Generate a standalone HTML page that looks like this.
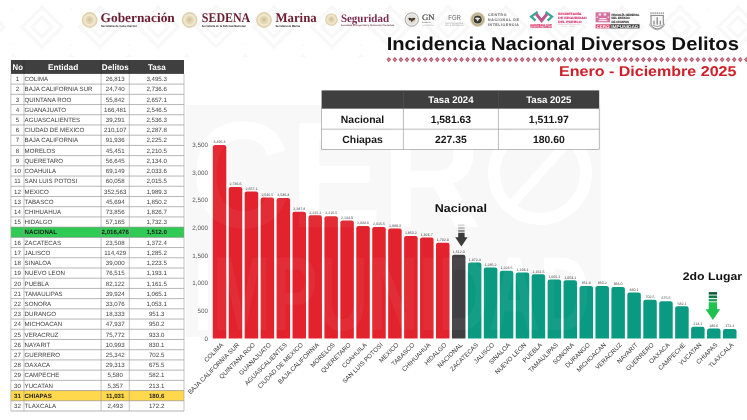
<!DOCTYPE html>
<html lang="es">
<head>
<meta charset="utf-8">
<title>Incidencia Nacional Diversos Delitos</title>
<style>
html,body{margin:0;padding:0;background:#fff;}
body{width:747px;height:420px;overflow:hidden;position:relative;font-family:"Liberation Sans", sans-serif;}
svg text{white-space:pre;}
</style>
</head>
<body>
<svg width="747" height="420" viewBox="0 0 747 420" style="display:block;position:absolute;left:0;top:0" text-rendering="geometricPrecision">
<rect width="747" height="420" fill="#ffffff"/>
<defs><pattern id="hp" x="13" y="-1" width="58" height="58" patternUnits="userSpaceOnUse"><g fill="none" stroke="#f8f8f8" stroke-width="3.4"><path d="M29 8 L49 28 L29 48 L9 28 Z"/><path d="M29 18 L39 28 L29 38 L19 28 Z"/><path d="M0 -1 L29 -30 M0 57 L-29 28 L0 -1 M58 -1 L87 28 L58 57 M0 9 L-19 28 L0 47 M58 9 L77 28 L58 47"/><path d="M29 58 L58 87 M29 -2 L58 -31 M0 57 L29 86 M58 57 L29 86 M0 -1 L29 -30 M58 -1 L29 -30"/></g></pattern></defs>
<rect x="0" y="0" width="747" height="57" fill="url(#hp)"/>
<rect x="186" y="105" width="415" height="232" fill="#f8f8f8"/>
<g fill="#ffffff" opacity="1.0" font-weight="bold" font-family='"Liberation Sans", sans-serif'>
<text x="191" y="227" font-size="151" textLength="290" lengthAdjust="spacingAndGlyphs">CER</text>
<text x="193" y="330" font-size="105" textLength="397" lengthAdjust="spacingAndGlyphs">IMPUNIDAD</text>
<circle cx="540" cy="173" r="46" fill="none" stroke="#ffffff" stroke-width="12"/>
<line x1="513" y1="203" x2="567" y2="143" stroke="#ffffff" stroke-width="9"/>
</g>
<circle cx="89.6" cy="20" r="7.9" fill="#e0d2ad"/>
<circle cx="89.6" cy="20" r="6.32" fill="#efe6cf"/>
<circle cx="89.6" cy="20" r="3.95" fill="#e3d6b4"/>
<circle cx="89.6" cy="19.7" r="2.05" fill="#d6c69c"/>
<text x="100.60" y="22.30" font-size="13.2" fill="#691c32" font-weight="bold" text-anchor="start" font-family='"Liberation Serif", serif' textLength="74.2" lengthAdjust="spacingAndGlyphs">Gobernación</text>
<text x="100.90" y="27.10" font-size="2.9" fill="#222" font-weight="bold" text-anchor="start" font-family='"Liberation Sans", sans-serif' textLength="36" lengthAdjust="spacingAndGlyphs">Secretaría de Gobernación</text>
<circle cx="189.6" cy="20" r="7.9" fill="#e0d2ad"/>
<circle cx="189.6" cy="20" r="6.32" fill="#efe6cf"/>
<circle cx="189.6" cy="20" r="3.95" fill="#e3d6b4"/>
<circle cx="189.6" cy="19.7" r="2.05" fill="#d6c69c"/>
<text x="201.80" y="22.30" font-size="13.2" fill="#691c32" font-weight="bold" text-anchor="start" font-family='"Liberation Serif", serif' textLength="48.4" lengthAdjust="spacingAndGlyphs">SEDENA</text>
<text x="201.80" y="27.10" font-size="2.9" fill="#222" font-weight="bold" text-anchor="start" font-family='"Liberation Sans", sans-serif' textLength="43.8" lengthAdjust="spacingAndGlyphs">Secretaría de la Defensa Nacional</text>
<circle cx="264" cy="20" r="7.9" fill="#e0d2ad"/>
<circle cx="264" cy="20" r="6.32" fill="#efe6cf"/>
<circle cx="264" cy="20" r="3.95" fill="#e3d6b4"/>
<circle cx="264" cy="19.7" r="2.05" fill="#d6c69c"/>
<text x="275.40" y="22.30" font-size="13.2" fill="#691c32" font-weight="bold" text-anchor="start" font-family='"Liberation Serif", serif' textLength="41.3" lengthAdjust="spacingAndGlyphs">Marina</text>
<text x="275.40" y="27.10" font-size="2.9" fill="#222" font-weight="bold" text-anchor="start" font-family='"Liberation Sans", sans-serif' textLength="24.6" lengthAdjust="spacingAndGlyphs">Secretaría de Marina</text>
<circle cx="331.4" cy="19.5" r="6.3" fill="#e0d2ad"/>
<circle cx="331.4" cy="19.5" r="5.04" fill="#efe6cf"/>
<circle cx="331.4" cy="19.5" r="3.15" fill="#e3d6b4"/>
<circle cx="331.4" cy="19.2" r="1.64" fill="#d6c69c"/>
<text x="340.90" y="21.60" font-size="11.3" fill="#7c2b50" font-weight="bold" text-anchor="start" font-family='"Liberation Serif", serif' textLength="48.1" lengthAdjust="spacingAndGlyphs">Seguridad</text>
<text x="340.90" y="25.60" font-size="2.3" fill="#6a3a50" font-weight="bold" text-anchor="start" font-family='"Liberation Sans", sans-serif' textLength="53.5" lengthAdjust="spacingAndGlyphs">Secretaría de Seguridad y Protección Ciudadana</text>
<circle cx="411.8" cy="19.5" r="6.7" fill="#f0efec" stroke="#9c9c9c" stroke-width="0.9"/>
<circle cx="411.8" cy="19.5" r="5.0" fill="#e3e0da"/>
<path d="M408.2 18.2 Q410 17.2 411.8 18.6 Q413.6 17.2 415.4 18.2 L414.2 20.6 L412.8 20.4 L411.8 22.6 L410.8 20.4 L409.4 20.6 Z" fill="#4a3828"/>
<text x="421.90" y="19.80" font-size="8.2" fill="#4d4d4d" font-weight="normal" text-anchor="start" font-family='"Liberation Serif", serif' textLength="12.6" lengthAdjust="spacingAndGlyphs" stroke="#4d4d4d" stroke-width="0.2">GN</text>
<text x="422.00" y="22.80" font-size="2.0" fill="#777" font-weight="bold" text-anchor="start" font-family='"Liberation Sans", sans-serif' textLength="8.5" lengthAdjust="spacingAndGlyphs">GUARDIA</text>
<text x="422.00" y="25.50" font-size="2.0" fill="#999" font-weight="normal" text-anchor="start" font-family='"Liberation Sans", sans-serif' textLength="12" lengthAdjust="spacingAndGlyphs">NACIONAL</text>
<text x="448.20" y="20.20" font-size="7.0" fill="#666" font-weight="normal" text-anchor="start" font-family='"Liberation Sans", sans-serif' textLength="12.8" lengthAdjust="spacingAndGlyphs">FGR</text>
<text x="445.00" y="23.90" font-size="2.1" fill="#b0b0b0" font-weight="bold" text-anchor="start" font-family='"Liberation Sans", sans-serif' textLength="18.7" lengthAdjust="spacingAndGlyphs">FISCALÍA GENERAL</text>
<text x="445.00" y="26.30" font-size="2.1" fill="#b0b0b0" font-weight="bold" text-anchor="start" font-family='"Liberation Sans", sans-serif' textLength="18.7" lengthAdjust="spacingAndGlyphs">DE LA REPÚBLICA</text>
<circle cx="477.7" cy="19.5" r="7.4" fill="#d8cfb2"/>
<circle cx="477.7" cy="19.5" r="6.3" fill="#b3a67f"/>
<circle cx="477.7" cy="19.5" r="5.0" fill="#e2dac0"/>
<circle cx="477.7" cy="19.5" r="4.1" fill="#3c3a30"/>
<path d="M474.6 18.2 Q477.4 16.8 480.6 18.6 Q478.6 18.8 477.8 21.6 Q476.8 19 474.6 18.2 Z" fill="#e9e6dc"/>
<text x="488.00" y="16.20" font-size="3.5" fill="#7e7e7e" font-weight="bold" text-anchor="start" font-family='"Liberation Sans", sans-serif' textLength="18.6" lengthAdjust="spacing" stroke="#7e7e7e" stroke-width="0.12">CENTRO</text>
<text x="488.00" y="21.05" font-size="3.5" fill="#7e7e7e" font-weight="bold" text-anchor="start" font-family='"Liberation Sans", sans-serif' textLength="30.9" lengthAdjust="spacing" stroke="#7e7e7e" stroke-width="0.12">NACIONAL DE</text>
<text x="488.00" y="25.90" font-size="3.5" fill="#7e7e7e" font-weight="bold" text-anchor="start" font-family='"Liberation Sans", sans-serif' textLength="30.9" lengthAdjust="spacing" stroke="#7e7e7e" stroke-width="0.12">INTELIGENCIA</text>
<g fill="none" stroke-width="2.3" stroke-linejoin="miter" stroke-linecap="butt">
<polyline points="537.6,12.0 531.2,16.6 535.6,20.6" stroke="#3aa899"/>
<polyline points="545.6,12.0 552.0,16.6 547.6,20.6" stroke="#3aa899"/>
<polyline points="536.2,14.0 541.6,20.6 547.0,14.0" stroke="#b9588a" stroke-width="3.0"/>
</g>
<text x="529.90" y="25.70" font-size="2.4" fill="#d93a6a" font-weight="bold" text-anchor="start" font-family='"Liberation Sans", sans-serif' textLength="22" lengthAdjust="spacingAndGlyphs" stroke="#d93a6a" stroke-width="0.15">GOBIERNO QUE</text>
<text x="529.90" y="27.90" font-size="2.6" fill="#d93a6a" font-weight="bold" text-anchor="start" font-family='"Liberation Sans", sans-serif' textLength="22" lengthAdjust="spacingAndGlyphs" stroke="#d93a6a" stroke-width="0.15">TRANSFORMA</text>
<text x="558.00" y="15.20" font-size="3.3" fill="#d93a72" font-weight="bold" text-anchor="start" font-family='"Liberation Sans", sans-serif' textLength="23.5" lengthAdjust="spacingAndGlyphs" stroke="#d93a72" stroke-width="0.15">SECRETARÍA</text>
<text x="558.00" y="18.95" font-size="3.3" fill="#d93a72" font-weight="bold" text-anchor="start" font-family='"Liberation Sans", sans-serif' textLength="28.6" lengthAdjust="spacingAndGlyphs" stroke="#d93a72" stroke-width="0.15">DE SEGURIDAD</text>
<text x="558.00" y="22.70" font-size="3.3" fill="#d93a72" font-weight="bold" text-anchor="start" font-family='"Liberation Sans", sans-serif' textLength="23.5" lengthAdjust="spacingAndGlyphs" stroke="#d93a72" stroke-width="0.15">DEL PUEBLO</text>
<text x="558.00" y="25.10" font-size="1.9" fill="#e3b7c6" font-weight="bold" text-anchor="start" font-family='"Liberation Sans", sans-serif' textLength="22" lengthAdjust="spacingAndGlyphs">GOBIERNO DE CHIAPAS</text>
<text x="561.00" y="27.00" font-size="1.7" fill="#d8d0d3" font-weight="bold" text-anchor="start" font-family='"Liberation Sans", sans-serif' textLength="14" lengthAdjust="spacingAndGlyphs">2024 - 2030</text>
<rect x="595.6" y="12.3" width="14.5" height="10" fill="#d271a2"/>
<g fill="#fff" opacity="0.8">
<rect x="598.6" y="13.4" width="2.6" height="2.2"/>
<rect x="603.6" y="13.4" width="2.6" height="2.2"/>
<rect x="596.6" y="16.6" width="1.6" height="1.2"/>
<rect x="607.6" y="16.6" width="1.6" height="1.2"/>
<rect x="599.4" y="18.0" width="7.0" height="1.4"/>
<rect x="598.4" y="20.0" width="9.0" height="1.2"/>
</g>
<text x="611.40" y="15.70" font-size="3.0" fill="#3a3a3a" font-weight="bold" text-anchor="start" font-family='"Liberation Sans", sans-serif' textLength="28.1" lengthAdjust="spacingAndGlyphs" stroke="#3a3a3a" stroke-width="0.15">FISCALÍA GENERAL</text>
<text x="611.40" y="19.15" font-size="3.0" fill="#3a3a3a" font-weight="bold" text-anchor="start" font-family='"Liberation Sans", sans-serif' textLength="18.4" lengthAdjust="spacingAndGlyphs" stroke="#3a3a3a" stroke-width="0.15">DEL ESTADO</text>
<text x="611.40" y="22.60" font-size="3.0" fill="#3a3a3a" font-weight="bold" text-anchor="start" font-family='"Liberation Sans", sans-serif' textLength="17.6" lengthAdjust="spacingAndGlyphs" stroke="#3a3a3a" stroke-width="0.15">DE CHIAPAS</text>
<rect x="595.6" y="24.3" width="14.7" height="4.1" fill="#d9446a"/>
<rect x="610.3" y="24.3" width="29.2" height="4.1" fill="#383838"/>
<text x="596.40" y="27.70" font-size="3.9" fill="#fff" font-weight="bold" text-anchor="start" font-family='"Liberation Sans", sans-serif' textLength="13.0" lengthAdjust="spacingAndGlyphs">CERO</text>
<text x="611.20" y="27.70" font-size="3.9" fill="#fff" font-weight="bold" text-anchor="start" font-family='"Liberation Sans", sans-serif' textLength="27.4" lengthAdjust="spacingAndGlyphs">IMPUNIDAD</text>
<g fill="none" stroke="#777" stroke-width="0.7">
<path d="M650.2 13.3 H664" stroke-width="1.9" stroke="#a9a9a9" stroke-dasharray="1.5 0.6"/>
<path d="M650.4 15.7 H663.9" stroke-width="0.9" stroke="#666"/>
<path d="M651.0 15.9 V24.2 Q651.0 27.6 657.15 29.1 Q663.3 27.6 663.3 24.2 V15.9" fill="#f6f6f6" stroke="#5e5e5e" stroke-width="0.8"/>
<path d="M649.4 23.6 Q650.2 28.4 657.15 30.0 Q664.1 28.4 664.9 23.6" stroke="#9b9b9b" stroke-width="0.7"/>
<path d="M657.15 17.2 V24.6" stroke-width="0.9" stroke="#555"/>
<path d="M654.0 20.8 V24.6 M660.3 20.8 V24.6" stroke-width="1.1" stroke="#7a7a7a"/>
<path d="M652.6 25.4 Q657.15 27.6 661.7 25.4" stroke-width="0.8" stroke="#8a8a8a"/>
</g>
<text x="386.70" y="50.40" font-size="18.5" fill="#111" font-weight="bold" text-anchor="start" font-family='"Liberation Sans", sans-serif' textLength="352.2" lengthAdjust="spacingAndGlyphs">Incidencia Nacional Diversos Delitos</text>
<g>
<path d="M386.50 59.6 L388.80 57.05 L391.10 59.6 L388.80 62.15 Z" fill="#b45467"/><circle cx="388.80" cy="59.6" r="0.95" fill="#d78e9c"/>
<path d="M392.56 59.6 L394.86 57.05 L397.16 59.6 L394.86 62.15 Z" fill="#b45467"/><circle cx="394.86" cy="59.6" r="0.95" fill="#d78e9c"/>
<path d="M398.62 59.6 L400.92 57.05 L403.22 59.6 L400.92 62.15 Z" fill="#b45467"/><circle cx="400.92" cy="59.6" r="0.95" fill="#d78e9c"/>
<path d="M404.68 59.6 L406.98 57.05 L409.28 59.6 L406.98 62.15 Z" fill="#b45467"/><circle cx="406.98" cy="59.6" r="0.95" fill="#d78e9c"/>
<path d="M410.74 59.6 L413.04 57.05 L415.34 59.6 L413.04 62.15 Z" fill="#b45467"/><circle cx="413.04" cy="59.6" r="0.95" fill="#d78e9c"/>
<path d="M416.80 59.6 L419.10 57.05 L421.40 59.6 L419.10 62.15 Z" fill="#b45467"/><circle cx="419.10" cy="59.6" r="0.95" fill="#d78e9c"/>
<path d="M422.86 59.6 L425.16 57.05 L427.46 59.6 L425.16 62.15 Z" fill="#b45467"/><circle cx="425.16" cy="59.6" r="0.95" fill="#d78e9c"/>
<path d="M428.92 59.6 L431.22 57.05 L433.52 59.6 L431.22 62.15 Z" fill="#b45467"/><circle cx="431.22" cy="59.6" r="0.95" fill="#d78e9c"/>
<path d="M434.98 59.6 L437.28 57.05 L439.58 59.6 L437.28 62.15 Z" fill="#b45467"/><circle cx="437.28" cy="59.6" r="0.95" fill="#d78e9c"/>
<path d="M441.04 59.6 L443.34 57.05 L445.64 59.6 L443.34 62.15 Z" fill="#b45467"/><circle cx="443.34" cy="59.6" r="0.95" fill="#d78e9c"/>
<path d="M447.10 59.6 L449.40 57.05 L451.70 59.6 L449.40 62.15 Z" fill="#b45467"/><circle cx="449.40" cy="59.6" r="0.95" fill="#d78e9c"/>
<path d="M453.16 59.6 L455.46 57.05 L457.76 59.6 L455.46 62.15 Z" fill="#b45467"/><circle cx="455.46" cy="59.6" r="0.95" fill="#d78e9c"/>
<path d="M459.22 59.6 L461.52 57.05 L463.82 59.6 L461.52 62.15 Z" fill="#b45467"/><circle cx="461.52" cy="59.6" r="0.95" fill="#d78e9c"/>
<path d="M465.28 59.6 L467.58 57.05 L469.88 59.6 L467.58 62.15 Z" fill="#b45467"/><circle cx="467.58" cy="59.6" r="0.95" fill="#d78e9c"/>
<path d="M471.34 59.6 L473.64 57.05 L475.94 59.6 L473.64 62.15 Z" fill="#b45467"/><circle cx="473.64" cy="59.6" r="0.95" fill="#d78e9c"/>
<path d="M477.40 59.6 L479.70 57.05 L482.00 59.6 L479.70 62.15 Z" fill="#b45467"/><circle cx="479.70" cy="59.6" r="0.95" fill="#d78e9c"/>
<path d="M483.46 59.6 L485.76 57.05 L488.06 59.6 L485.76 62.15 Z" fill="#b45467"/><circle cx="485.76" cy="59.6" r="0.95" fill="#d78e9c"/>
<path d="M489.52 59.6 L491.82 57.05 L494.12 59.6 L491.82 62.15 Z" fill="#b45467"/><circle cx="491.82" cy="59.6" r="0.95" fill="#d78e9c"/>
<path d="M495.58 59.6 L497.88 57.05 L500.18 59.6 L497.88 62.15 Z" fill="#b45467"/><circle cx="497.88" cy="59.6" r="0.95" fill="#d78e9c"/>
<path d="M501.64 59.6 L503.94 57.05 L506.24 59.6 L503.94 62.15 Z" fill="#b45467"/><circle cx="503.94" cy="59.6" r="0.95" fill="#d78e9c"/>
<path d="M507.70 59.6 L510.00 57.05 L512.30 59.6 L510.00 62.15 Z" fill="#b45467"/><circle cx="510.00" cy="59.6" r="0.95" fill="#d78e9c"/>
<path d="M513.76 59.6 L516.06 57.05 L518.36 59.6 L516.06 62.15 Z" fill="#b45467"/><circle cx="516.06" cy="59.6" r="0.95" fill="#d78e9c"/>
<path d="M519.82 59.6 L522.12 57.05 L524.42 59.6 L522.12 62.15 Z" fill="#b45467"/><circle cx="522.12" cy="59.6" r="0.95" fill="#d78e9c"/>
<path d="M525.88 59.6 L528.18 57.05 L530.48 59.6 L528.18 62.15 Z" fill="#b45467"/><circle cx="528.18" cy="59.6" r="0.95" fill="#d78e9c"/>
<path d="M531.94 59.6 L534.24 57.05 L536.54 59.6 L534.24 62.15 Z" fill="#b45467"/><circle cx="534.24" cy="59.6" r="0.95" fill="#d78e9c"/>
<path d="M538.00 59.6 L540.30 57.05 L542.60 59.6 L540.30 62.15 Z" fill="#b45467"/><circle cx="540.30" cy="59.6" r="0.95" fill="#d78e9c"/>
<path d="M544.06 59.6 L546.36 57.05 L548.66 59.6 L546.36 62.15 Z" fill="#b45467"/><circle cx="546.36" cy="59.6" r="0.95" fill="#d78e9c"/>
<path d="M550.12 59.6 L552.42 57.05 L554.72 59.6 L552.42 62.15 Z" fill="#b45467"/><circle cx="552.42" cy="59.6" r="0.95" fill="#d78e9c"/>
<path d="M556.18 59.6 L558.48 57.05 L560.78 59.6 L558.48 62.15 Z" fill="#b45467"/><circle cx="558.48" cy="59.6" r="0.95" fill="#d78e9c"/>
<path d="M562.24 59.6 L564.54 57.05 L566.84 59.6 L564.54 62.15 Z" fill="#b45467"/><circle cx="564.54" cy="59.6" r="0.95" fill="#d78e9c"/>
<path d="M568.30 59.6 L570.60 57.05 L572.90 59.6 L570.60 62.15 Z" fill="#b45467"/><circle cx="570.60" cy="59.6" r="0.95" fill="#d78e9c"/>
<path d="M574.36 59.6 L576.66 57.05 L578.96 59.6 L576.66 62.15 Z" fill="#b45467"/><circle cx="576.66" cy="59.6" r="0.95" fill="#d78e9c"/>
<path d="M580.42 59.6 L582.72 57.05 L585.02 59.6 L582.72 62.15 Z" fill="#b45467"/><circle cx="582.72" cy="59.6" r="0.95" fill="#d78e9c"/>
<path d="M586.48 59.6 L588.78 57.05 L591.08 59.6 L588.78 62.15 Z" fill="#b45467"/><circle cx="588.78" cy="59.6" r="0.95" fill="#d78e9c"/>
<path d="M592.54 59.6 L594.84 57.05 L597.14 59.6 L594.84 62.15 Z" fill="#b45467"/><circle cx="594.84" cy="59.6" r="0.95" fill="#d78e9c"/>
<path d="M598.60 59.6 L600.90 57.05 L603.20 59.6 L600.90 62.15 Z" fill="#b45467"/><circle cx="600.90" cy="59.6" r="0.95" fill="#d78e9c"/>
<path d="M604.66 59.6 L606.96 57.05 L609.26 59.6 L606.96 62.15 Z" fill="#b45467"/><circle cx="606.96" cy="59.6" r="0.95" fill="#d78e9c"/>
<path d="M610.72 59.6 L613.02 57.05 L615.32 59.6 L613.02 62.15 Z" fill="#b45467"/><circle cx="613.02" cy="59.6" r="0.95" fill="#d78e9c"/>
<path d="M616.78 59.6 L619.08 57.05 L621.38 59.6 L619.08 62.15 Z" fill="#b45467"/><circle cx="619.08" cy="59.6" r="0.95" fill="#d78e9c"/>
<path d="M622.84 59.6 L625.14 57.05 L627.44 59.6 L625.14 62.15 Z" fill="#b45467"/><circle cx="625.14" cy="59.6" r="0.95" fill="#d78e9c"/>
<path d="M628.90 59.6 L631.20 57.05 L633.50 59.6 L631.20 62.15 Z" fill="#b45467"/><circle cx="631.20" cy="59.6" r="0.95" fill="#d78e9c"/>
<path d="M634.96 59.6 L637.26 57.05 L639.56 59.6 L637.26 62.15 Z" fill="#b45467"/><circle cx="637.26" cy="59.6" r="0.95" fill="#d78e9c"/>
<path d="M641.02 59.6 L643.32 57.05 L645.62 59.6 L643.32 62.15 Z" fill="#b45467"/><circle cx="643.32" cy="59.6" r="0.95" fill="#d78e9c"/>
<path d="M647.08 59.6 L649.38 57.05 L651.68 59.6 L649.38 62.15 Z" fill="#b45467"/><circle cx="649.38" cy="59.6" r="0.95" fill="#d78e9c"/>
<path d="M653.14 59.6 L655.44 57.05 L657.74 59.6 L655.44 62.15 Z" fill="#b45467"/><circle cx="655.44" cy="59.6" r="0.95" fill="#d78e9c"/>
<path d="M659.20 59.6 L661.50 57.05 L663.80 59.6 L661.50 62.15 Z" fill="#b45467"/><circle cx="661.50" cy="59.6" r="0.95" fill="#d78e9c"/>
<path d="M665.26 59.6 L667.56 57.05 L669.86 59.6 L667.56 62.15 Z" fill="#b45467"/><circle cx="667.56" cy="59.6" r="0.95" fill="#d78e9c"/>
<path d="M671.32 59.6 L673.62 57.05 L675.92 59.6 L673.62 62.15 Z" fill="#b45467"/><circle cx="673.62" cy="59.6" r="0.95" fill="#d78e9c"/>
<path d="M677.38 59.6 L679.68 57.05 L681.98 59.6 L679.68 62.15 Z" fill="#b45467"/><circle cx="679.68" cy="59.6" r="0.95" fill="#d78e9c"/>
<path d="M683.44 59.6 L685.74 57.05 L688.04 59.6 L685.74 62.15 Z" fill="#b45467"/><circle cx="685.74" cy="59.6" r="0.95" fill="#d78e9c"/>
<path d="M689.50 59.6 L691.80 57.05 L694.10 59.6 L691.80 62.15 Z" fill="#b45467"/><circle cx="691.80" cy="59.6" r="0.95" fill="#d78e9c"/>
<path d="M695.56 59.6 L697.86 57.05 L700.16 59.6 L697.86 62.15 Z" fill="#b45467"/><circle cx="697.86" cy="59.6" r="0.95" fill="#d78e9c"/>
<path d="M701.62 59.6 L703.92 57.05 L706.22 59.6 L703.92 62.15 Z" fill="#b45467"/><circle cx="703.92" cy="59.6" r="0.95" fill="#d78e9c"/>
<path d="M707.68 59.6 L709.98 57.05 L712.28 59.6 L709.98 62.15 Z" fill="#b45467"/><circle cx="709.98" cy="59.6" r="0.95" fill="#d78e9c"/>
<path d="M713.74 59.6 L716.04 57.05 L718.34 59.6 L716.04 62.15 Z" fill="#b45467"/><circle cx="716.04" cy="59.6" r="0.95" fill="#d78e9c"/>
<path d="M719.80 59.6 L722.10 57.05 L724.40 59.6 L722.10 62.15 Z" fill="#b45467"/><circle cx="722.10" cy="59.6" r="0.95" fill="#d78e9c"/>
<path d="M725.86 59.6 L728.16 57.05 L730.46 59.6 L728.16 62.15 Z" fill="#b45467"/><circle cx="728.16" cy="59.6" r="0.95" fill="#d78e9c"/>
<path d="M731.92 59.6 L734.22 57.05 L736.52 59.6 L734.22 62.15 Z" fill="#b45467"/><circle cx="734.22" cy="59.6" r="0.95" fill="#d78e9c"/>
<path d="M737.98 59.6 L740.28 57.05 L742.58 59.6 L740.28 62.15 Z" fill="#b45467"/><circle cx="740.28" cy="59.6" r="0.95" fill="#d78e9c"/>
<path d="M744.04 59.6 L746.34 57.05 L748.64 59.6 L746.34 62.15 Z" fill="#b45467"/><circle cx="746.34" cy="59.6" r="0.95" fill="#d78e9c"/>
</g>
<text x="559.00" y="76.30" font-size="14.2" fill="#d11f2a" font-weight="bold" text-anchor="start" font-family='"Liberation Sans", sans-serif' textLength="177.4" lengthAdjust="spacingAndGlyphs">Enero - Diciembre 2025</text>
<rect x="10.9" y="73.9" width="173.1" height="337.10" fill="#fff"/>
<rect x="10.9" y="60.0" width="173.1" height="13.90" fill="#3f3f3f"/>
<rect x="10.9" y="227.13" width="173.1" height="10.22" fill="#30cb55"/>
<rect x="10.9" y="390.57" width="173.1" height="10.22" fill="#ffd84d"/>
<text x="12.60" y="69.70" font-size="8.2" fill="#fff" font-weight="bold" text-anchor="start" font-family='"Liberation Sans", sans-serif' textLength="10.3" lengthAdjust="spacingAndGlyphs">No</text>
<text x="47.90" y="69.70" font-size="8.2" fill="#fff" font-weight="bold" text-anchor="start" font-family='"Liberation Sans", sans-serif' textLength="30.4" lengthAdjust="spacingAndGlyphs">Entidad</text>
<text x="101.80" y="69.70" font-size="8.2" fill="#fff" font-weight="bold" text-anchor="start" font-family='"Liberation Sans", sans-serif' textLength="27.0" lengthAdjust="spacingAndGlyphs">Delitos</text>
<text x="147.90" y="69.70" font-size="8.2" fill="#fff" font-weight="bold" text-anchor="start" font-family='"Liberation Sans", sans-serif' textLength="17.8" lengthAdjust="spacingAndGlyphs">Tasa</text>
<g stroke="#848484" stroke-width="0.6" fill="none">
<line x1="10.9" y1="84.12" x2="184.0" y2="84.12"/>
<line x1="10.9" y1="94.33" x2="184.0" y2="94.33"/>
<line x1="10.9" y1="104.55" x2="184.0" y2="104.55"/>
<line x1="10.9" y1="114.76" x2="184.0" y2="114.76"/>
<line x1="10.9" y1="124.98" x2="184.0" y2="124.98"/>
<line x1="10.9" y1="135.19" x2="184.0" y2="135.19"/>
<line x1="10.9" y1="145.41" x2="184.0" y2="145.41"/>
<line x1="10.9" y1="155.62" x2="184.0" y2="155.62"/>
<line x1="10.9" y1="165.84" x2="184.0" y2="165.84"/>
<line x1="10.9" y1="176.05" x2="184.0" y2="176.05"/>
<line x1="10.9" y1="186.27" x2="184.0" y2="186.27"/>
<line x1="10.9" y1="196.48" x2="184.0" y2="196.48"/>
<line x1="10.9" y1="206.70" x2="184.0" y2="206.70"/>
<line x1="10.9" y1="216.91" x2="184.0" y2="216.91"/>
<line x1="10.9" y1="227.13" x2="184.0" y2="227.13"/>
<line x1="10.9" y1="237.34" x2="184.0" y2="237.34"/>
<line x1="10.9" y1="247.56" x2="184.0" y2="247.56"/>
<line x1="10.9" y1="257.77" x2="184.0" y2="257.77"/>
<line x1="10.9" y1="267.99" x2="184.0" y2="267.99"/>
<line x1="10.9" y1="278.20" x2="184.0" y2="278.20"/>
<line x1="10.9" y1="288.42" x2="184.0" y2="288.42"/>
<line x1="10.9" y1="298.63" x2="184.0" y2="298.63"/>
<line x1="10.9" y1="308.85" x2="184.0" y2="308.85"/>
<line x1="10.9" y1="319.06" x2="184.0" y2="319.06"/>
<line x1="10.9" y1="329.28" x2="184.0" y2="329.28"/>
<line x1="10.9" y1="339.49" x2="184.0" y2="339.49"/>
<line x1="10.9" y1="349.71" x2="184.0" y2="349.71"/>
<line x1="10.9" y1="359.92" x2="184.0" y2="359.92"/>
<line x1="10.9" y1="370.14" x2="184.0" y2="370.14"/>
<line x1="10.9" y1="380.35" x2="184.0" y2="380.35"/>
<line x1="10.9" y1="390.57" x2="184.0" y2="390.57"/>
<line x1="10.9" y1="400.78" x2="184.0" y2="400.78"/>
<line x1="10.9" y1="411.00" x2="184.0" y2="411.00"/>
</g>
<g stroke="#9c9c9c" stroke-width="0.6" fill="none">
<line x1="10.9" y1="73.9" x2="10.9" y2="411.0"/>
<line x1="24.0" y1="73.9" x2="24.0" y2="411.0"/>
<line x1="101.1" y1="73.9" x2="101.1" y2="411.0"/>
<line x1="129.3" y1="73.9" x2="129.3" y2="411.0"/>
<line x1="184.0" y1="73.9" x2="184.0" y2="411.0"/>
</g>
<g stroke="#2d2d2d" stroke-width="0.5"><line x1="101.1" y1="60.0" x2="101.1" y2="73.9"/><line x1="129.3" y1="60.0" x2="129.3" y2="73.9"/><line x1="24.0" y1="60.0" x2="24.0" y2="73.9"/></g>
<text x="17.50" y="81.20" font-size="6.15" fill="#3c3c3c" font-weight="normal" text-anchor="middle" font-family='"Liberation Sans", sans-serif' >1</text>
<text x="24.60" y="81.20" font-size="6.15" fill="#3c3c3c" font-weight="normal" text-anchor="start" font-family='"Liberation Sans", sans-serif' >COLIMA</text>
<text x="115.20" y="81.20" font-size="6.15" fill="#3c3c3c" font-weight="normal" text-anchor="middle" font-family='"Liberation Sans", sans-serif' >26,813</text>
<text x="156.65" y="81.20" font-size="6.15" fill="#3c3c3c" font-weight="normal" text-anchor="middle" font-family='"Liberation Sans", sans-serif' >3,495.3</text>
<text x="17.50" y="91.42" font-size="6.15" fill="#3c3c3c" font-weight="normal" text-anchor="middle" font-family='"Liberation Sans", sans-serif' >2</text>
<text x="24.60" y="91.42" font-size="6.15" fill="#3c3c3c" font-weight="normal" text-anchor="start" font-family='"Liberation Sans", sans-serif' >BAJA CALIFORNIA SUR</text>
<text x="115.20" y="91.42" font-size="6.15" fill="#3c3c3c" font-weight="normal" text-anchor="middle" font-family='"Liberation Sans", sans-serif' >24,740</text>
<text x="156.65" y="91.42" font-size="6.15" fill="#3c3c3c" font-weight="normal" text-anchor="middle" font-family='"Liberation Sans", sans-serif' >2,736.6</text>
<text x="17.50" y="101.63" font-size="6.15" fill="#3c3c3c" font-weight="normal" text-anchor="middle" font-family='"Liberation Sans", sans-serif' >3</text>
<text x="24.60" y="101.63" font-size="6.15" fill="#3c3c3c" font-weight="normal" text-anchor="start" font-family='"Liberation Sans", sans-serif' >QUINTANA ROO</text>
<text x="115.20" y="101.63" font-size="6.15" fill="#3c3c3c" font-weight="normal" text-anchor="middle" font-family='"Liberation Sans", sans-serif' >55,842</text>
<text x="156.65" y="101.63" font-size="6.15" fill="#3c3c3c" font-weight="normal" text-anchor="middle" font-family='"Liberation Sans", sans-serif' >2,657.1</text>
<text x="17.50" y="111.85" font-size="6.15" fill="#3c3c3c" font-weight="normal" text-anchor="middle" font-family='"Liberation Sans", sans-serif' >4</text>
<text x="24.60" y="111.85" font-size="6.15" fill="#3c3c3c" font-weight="normal" text-anchor="start" font-family='"Liberation Sans", sans-serif' >GUANAJUATO</text>
<text x="115.20" y="111.85" font-size="6.15" fill="#3c3c3c" font-weight="normal" text-anchor="middle" font-family='"Liberation Sans", sans-serif' >166,481</text>
<text x="156.65" y="111.85" font-size="6.15" fill="#3c3c3c" font-weight="normal" text-anchor="middle" font-family='"Liberation Sans", sans-serif' >2,546.5</text>
<text x="17.50" y="122.06" font-size="6.15" fill="#3c3c3c" font-weight="normal" text-anchor="middle" font-family='"Liberation Sans", sans-serif' >5</text>
<text x="24.60" y="122.06" font-size="6.15" fill="#3c3c3c" font-weight="normal" text-anchor="start" font-family='"Liberation Sans", sans-serif' >AGUASCALIENTES</text>
<text x="115.20" y="122.06" font-size="6.15" fill="#3c3c3c" font-weight="normal" text-anchor="middle" font-family='"Liberation Sans", sans-serif' >39,291</text>
<text x="156.65" y="122.06" font-size="6.15" fill="#3c3c3c" font-weight="normal" text-anchor="middle" font-family='"Liberation Sans", sans-serif' >2,536.3</text>
<text x="17.50" y="132.28" font-size="6.15" fill="#3c3c3c" font-weight="normal" text-anchor="middle" font-family='"Liberation Sans", sans-serif' >6</text>
<text x="24.60" y="132.28" font-size="6.15" fill="#3c3c3c" font-weight="normal" text-anchor="start" font-family='"Liberation Sans", sans-serif' >CIUDAD DE MEXICO</text>
<text x="115.20" y="132.28" font-size="6.15" fill="#3c3c3c" font-weight="normal" text-anchor="middle" font-family='"Liberation Sans", sans-serif' >210,107</text>
<text x="156.65" y="132.28" font-size="6.15" fill="#3c3c3c" font-weight="normal" text-anchor="middle" font-family='"Liberation Sans", sans-serif' >2,287.8</text>
<text x="17.50" y="142.49" font-size="6.15" fill="#3c3c3c" font-weight="normal" text-anchor="middle" font-family='"Liberation Sans", sans-serif' >7</text>
<text x="24.60" y="142.49" font-size="6.15" fill="#3c3c3c" font-weight="normal" text-anchor="start" font-family='"Liberation Sans", sans-serif' >BAJA CALIFORNIA</text>
<text x="115.20" y="142.49" font-size="6.15" fill="#3c3c3c" font-weight="normal" text-anchor="middle" font-family='"Liberation Sans", sans-serif' >91,936</text>
<text x="156.65" y="142.49" font-size="6.15" fill="#3c3c3c" font-weight="normal" text-anchor="middle" font-family='"Liberation Sans", sans-serif' >2,225.2</text>
<text x="17.50" y="152.71" font-size="6.15" fill="#3c3c3c" font-weight="normal" text-anchor="middle" font-family='"Liberation Sans", sans-serif' >8</text>
<text x="24.60" y="152.71" font-size="6.15" fill="#3c3c3c" font-weight="normal" text-anchor="start" font-family='"Liberation Sans", sans-serif' >MORELOS</text>
<text x="115.20" y="152.71" font-size="6.15" fill="#3c3c3c" font-weight="normal" text-anchor="middle" font-family='"Liberation Sans", sans-serif' >45,451</text>
<text x="156.65" y="152.71" font-size="6.15" fill="#3c3c3c" font-weight="normal" text-anchor="middle" font-family='"Liberation Sans", sans-serif' >2,210.5</text>
<text x="17.50" y="162.92" font-size="6.15" fill="#3c3c3c" font-weight="normal" text-anchor="middle" font-family='"Liberation Sans", sans-serif' >9</text>
<text x="24.60" y="162.92" font-size="6.15" fill="#3c3c3c" font-weight="normal" text-anchor="start" font-family='"Liberation Sans", sans-serif' >QUERETARO</text>
<text x="115.20" y="162.92" font-size="6.15" fill="#3c3c3c" font-weight="normal" text-anchor="middle" font-family='"Liberation Sans", sans-serif' >56,645</text>
<text x="156.65" y="162.92" font-size="6.15" fill="#3c3c3c" font-weight="normal" text-anchor="middle" font-family='"Liberation Sans", sans-serif' >2,134.0</text>
<text x="17.50" y="173.14" font-size="6.15" fill="#3c3c3c" font-weight="normal" text-anchor="middle" font-family='"Liberation Sans", sans-serif' >10</text>
<text x="24.60" y="173.14" font-size="6.15" fill="#3c3c3c" font-weight="normal" text-anchor="start" font-family='"Liberation Sans", sans-serif' >COAHUILA</text>
<text x="115.20" y="173.14" font-size="6.15" fill="#3c3c3c" font-weight="normal" text-anchor="middle" font-family='"Liberation Sans", sans-serif' >69,149</text>
<text x="156.65" y="173.14" font-size="6.15" fill="#3c3c3c" font-weight="normal" text-anchor="middle" font-family='"Liberation Sans", sans-serif' >2,033.6</text>
<text x="17.50" y="183.35" font-size="6.15" fill="#3c3c3c" font-weight="normal" text-anchor="middle" font-family='"Liberation Sans", sans-serif' >11</text>
<text x="24.60" y="183.35" font-size="6.15" fill="#3c3c3c" font-weight="normal" text-anchor="start" font-family='"Liberation Sans", sans-serif' >SAN LUIS POTOSI</text>
<text x="115.20" y="183.35" font-size="6.15" fill="#3c3c3c" font-weight="normal" text-anchor="middle" font-family='"Liberation Sans", sans-serif' >60,058</text>
<text x="156.65" y="183.35" font-size="6.15" fill="#3c3c3c" font-weight="normal" text-anchor="middle" font-family='"Liberation Sans", sans-serif' >2,015.5</text>
<text x="17.50" y="193.57" font-size="6.15" fill="#3c3c3c" font-weight="normal" text-anchor="middle" font-family='"Liberation Sans", sans-serif' >12</text>
<text x="24.60" y="193.57" font-size="6.15" fill="#3c3c3c" font-weight="normal" text-anchor="start" font-family='"Liberation Sans", sans-serif' >MEXICO</text>
<text x="115.20" y="193.57" font-size="6.15" fill="#3c3c3c" font-weight="normal" text-anchor="middle" font-family='"Liberation Sans", sans-serif' >352,563</text>
<text x="156.65" y="193.57" font-size="6.15" fill="#3c3c3c" font-weight="normal" text-anchor="middle" font-family='"Liberation Sans", sans-serif' >1,989.3</text>
<text x="17.50" y="203.78" font-size="6.15" fill="#3c3c3c" font-weight="normal" text-anchor="middle" font-family='"Liberation Sans", sans-serif' >13</text>
<text x="24.60" y="203.78" font-size="6.15" fill="#3c3c3c" font-weight="normal" text-anchor="start" font-family='"Liberation Sans", sans-serif' >TABASCO</text>
<text x="115.20" y="203.78" font-size="6.15" fill="#3c3c3c" font-weight="normal" text-anchor="middle" font-family='"Liberation Sans", sans-serif' >45,694</text>
<text x="156.65" y="203.78" font-size="6.15" fill="#3c3c3c" font-weight="normal" text-anchor="middle" font-family='"Liberation Sans", sans-serif' >1,850.2</text>
<text x="17.50" y="214.00" font-size="6.15" fill="#3c3c3c" font-weight="normal" text-anchor="middle" font-family='"Liberation Sans", sans-serif' >14</text>
<text x="24.60" y="214.00" font-size="6.15" fill="#3c3c3c" font-weight="normal" text-anchor="start" font-family='"Liberation Sans", sans-serif' >CHIHUAHUA</text>
<text x="115.20" y="214.00" font-size="6.15" fill="#3c3c3c" font-weight="normal" text-anchor="middle" font-family='"Liberation Sans", sans-serif' >73,856</text>
<text x="156.65" y="214.00" font-size="6.15" fill="#3c3c3c" font-weight="normal" text-anchor="middle" font-family='"Liberation Sans", sans-serif' >1,826.7</text>
<text x="17.50" y="224.21" font-size="6.15" fill="#3c3c3c" font-weight="normal" text-anchor="middle" font-family='"Liberation Sans", sans-serif' >15</text>
<text x="24.60" y="224.21" font-size="6.15" fill="#3c3c3c" font-weight="normal" text-anchor="start" font-family='"Liberation Sans", sans-serif' >HIDALGO</text>
<text x="115.20" y="224.21" font-size="6.15" fill="#3c3c3c" font-weight="normal" text-anchor="middle" font-family='"Liberation Sans", sans-serif' >57,165</text>
<text x="156.65" y="224.21" font-size="6.15" fill="#3c3c3c" font-weight="normal" text-anchor="middle" font-family='"Liberation Sans", sans-serif' >1,732.3</text>
<text x="24.60" y="234.43" font-size="6.15" fill="#1c1c1c" font-weight="bold" text-anchor="start" font-family='"Liberation Sans", sans-serif' >NACIONAL</text>
<text x="115.20" y="234.43" font-size="6.15" fill="#1c1c1c" font-weight="bold" text-anchor="middle" font-family='"Liberation Sans", sans-serif' >2,016,476</text>
<text x="156.65" y="234.43" font-size="6.15" fill="#1c1c1c" font-weight="bold" text-anchor="middle" font-family='"Liberation Sans", sans-serif' >1,512.0</text>
<text x="17.50" y="244.64" font-size="6.15" fill="#3c3c3c" font-weight="normal" text-anchor="middle" font-family='"Liberation Sans", sans-serif' >16</text>
<text x="24.60" y="244.64" font-size="6.15" fill="#3c3c3c" font-weight="normal" text-anchor="start" font-family='"Liberation Sans", sans-serif' >ZACATECAS</text>
<text x="115.20" y="244.64" font-size="6.15" fill="#3c3c3c" font-weight="normal" text-anchor="middle" font-family='"Liberation Sans", sans-serif' >23,508</text>
<text x="156.65" y="244.64" font-size="6.15" fill="#3c3c3c" font-weight="normal" text-anchor="middle" font-family='"Liberation Sans", sans-serif' >1,372.4</text>
<text x="17.50" y="254.86" font-size="6.15" fill="#3c3c3c" font-weight="normal" text-anchor="middle" font-family='"Liberation Sans", sans-serif' >17</text>
<text x="24.60" y="254.86" font-size="6.15" fill="#3c3c3c" font-weight="normal" text-anchor="start" font-family='"Liberation Sans", sans-serif' >JALISCO</text>
<text x="115.20" y="254.86" font-size="6.15" fill="#3c3c3c" font-weight="normal" text-anchor="middle" font-family='"Liberation Sans", sans-serif' >114,429</text>
<text x="156.65" y="254.86" font-size="6.15" fill="#3c3c3c" font-weight="normal" text-anchor="middle" font-family='"Liberation Sans", sans-serif' >1,285.2</text>
<text x="17.50" y="265.07" font-size="6.15" fill="#3c3c3c" font-weight="normal" text-anchor="middle" font-family='"Liberation Sans", sans-serif' >18</text>
<text x="24.60" y="265.07" font-size="6.15" fill="#3c3c3c" font-weight="normal" text-anchor="start" font-family='"Liberation Sans", sans-serif' >SINALOA</text>
<text x="115.20" y="265.07" font-size="6.15" fill="#3c3c3c" font-weight="normal" text-anchor="middle" font-family='"Liberation Sans", sans-serif' >39,000</text>
<text x="156.65" y="265.07" font-size="6.15" fill="#3c3c3c" font-weight="normal" text-anchor="middle" font-family='"Liberation Sans", sans-serif' >1,223.5</text>
<text x="17.50" y="275.29" font-size="6.15" fill="#3c3c3c" font-weight="normal" text-anchor="middle" font-family='"Liberation Sans", sans-serif' >19</text>
<text x="24.60" y="275.29" font-size="6.15" fill="#3c3c3c" font-weight="normal" text-anchor="start" font-family='"Liberation Sans", sans-serif' >NUEVO LEON</text>
<text x="115.20" y="275.29" font-size="6.15" fill="#3c3c3c" font-weight="normal" text-anchor="middle" font-family='"Liberation Sans", sans-serif' >76,515</text>
<text x="156.65" y="275.29" font-size="6.15" fill="#3c3c3c" font-weight="normal" text-anchor="middle" font-family='"Liberation Sans", sans-serif' >1,193.1</text>
<text x="17.50" y="285.50" font-size="6.15" fill="#3c3c3c" font-weight="normal" text-anchor="middle" font-family='"Liberation Sans", sans-serif' >20</text>
<text x="24.60" y="285.50" font-size="6.15" fill="#3c3c3c" font-weight="normal" text-anchor="start" font-family='"Liberation Sans", sans-serif' >PUEBLA</text>
<text x="115.20" y="285.50" font-size="6.15" fill="#3c3c3c" font-weight="normal" text-anchor="middle" font-family='"Liberation Sans", sans-serif' >82,122</text>
<text x="156.65" y="285.50" font-size="6.15" fill="#3c3c3c" font-weight="normal" text-anchor="middle" font-family='"Liberation Sans", sans-serif' >1,161.5</text>
<text x="17.50" y="295.72" font-size="6.15" fill="#3c3c3c" font-weight="normal" text-anchor="middle" font-family='"Liberation Sans", sans-serif' >21</text>
<text x="24.60" y="295.72" font-size="6.15" fill="#3c3c3c" font-weight="normal" text-anchor="start" font-family='"Liberation Sans", sans-serif' >TAMAULIPAS</text>
<text x="115.20" y="295.72" font-size="6.15" fill="#3c3c3c" font-weight="normal" text-anchor="middle" font-family='"Liberation Sans", sans-serif' >39,924</text>
<text x="156.65" y="295.72" font-size="6.15" fill="#3c3c3c" font-weight="normal" text-anchor="middle" font-family='"Liberation Sans", sans-serif' >1,065.1</text>
<text x="17.50" y="305.93" font-size="6.15" fill="#3c3c3c" font-weight="normal" text-anchor="middle" font-family='"Liberation Sans", sans-serif' >22</text>
<text x="24.60" y="305.93" font-size="6.15" fill="#3c3c3c" font-weight="normal" text-anchor="start" font-family='"Liberation Sans", sans-serif' >SONORA</text>
<text x="115.20" y="305.93" font-size="6.15" fill="#3c3c3c" font-weight="normal" text-anchor="middle" font-family='"Liberation Sans", sans-serif' >33,076</text>
<text x="156.65" y="305.93" font-size="6.15" fill="#3c3c3c" font-weight="normal" text-anchor="middle" font-family='"Liberation Sans", sans-serif' >1,053.1</text>
<text x="17.50" y="316.15" font-size="6.15" fill="#3c3c3c" font-weight="normal" text-anchor="middle" font-family='"Liberation Sans", sans-serif' >23</text>
<text x="24.60" y="316.15" font-size="6.15" fill="#3c3c3c" font-weight="normal" text-anchor="start" font-family='"Liberation Sans", sans-serif' >DURANGO</text>
<text x="115.20" y="316.15" font-size="6.15" fill="#3c3c3c" font-weight="normal" text-anchor="middle" font-family='"Liberation Sans", sans-serif' >18,333</text>
<text x="156.65" y="316.15" font-size="6.15" fill="#3c3c3c" font-weight="normal" text-anchor="middle" font-family='"Liberation Sans", sans-serif' >951.3</text>
<text x="17.50" y="326.36" font-size="6.15" fill="#3c3c3c" font-weight="normal" text-anchor="middle" font-family='"Liberation Sans", sans-serif' >24</text>
<text x="24.60" y="326.36" font-size="6.15" fill="#3c3c3c" font-weight="normal" text-anchor="start" font-family='"Liberation Sans", sans-serif' >MICHOACAN</text>
<text x="115.20" y="326.36" font-size="6.15" fill="#3c3c3c" font-weight="normal" text-anchor="middle" font-family='"Liberation Sans", sans-serif' >47,937</text>
<text x="156.65" y="326.36" font-size="6.15" fill="#3c3c3c" font-weight="normal" text-anchor="middle" font-family='"Liberation Sans", sans-serif' >950.2</text>
<text x="17.50" y="336.58" font-size="6.15" fill="#3c3c3c" font-weight="normal" text-anchor="middle" font-family='"Liberation Sans", sans-serif' >25</text>
<text x="24.60" y="336.58" font-size="6.15" fill="#3c3c3c" font-weight="normal" text-anchor="start" font-family='"Liberation Sans", sans-serif' >VERACRUZ</text>
<text x="115.20" y="336.58" font-size="6.15" fill="#3c3c3c" font-weight="normal" text-anchor="middle" font-family='"Liberation Sans", sans-serif' >75,772</text>
<text x="156.65" y="336.58" font-size="6.15" fill="#3c3c3c" font-weight="normal" text-anchor="middle" font-family='"Liberation Sans", sans-serif' >933.0</text>
<text x="17.50" y="346.79" font-size="6.15" fill="#3c3c3c" font-weight="normal" text-anchor="middle" font-family='"Liberation Sans", sans-serif' >26</text>
<text x="24.60" y="346.79" font-size="6.15" fill="#3c3c3c" font-weight="normal" text-anchor="start" font-family='"Liberation Sans", sans-serif' >NAYARIT</text>
<text x="115.20" y="346.79" font-size="6.15" fill="#3c3c3c" font-weight="normal" text-anchor="middle" font-family='"Liberation Sans", sans-serif' >10,993</text>
<text x="156.65" y="346.79" font-size="6.15" fill="#3c3c3c" font-weight="normal" text-anchor="middle" font-family='"Liberation Sans", sans-serif' >830.1</text>
<text x="17.50" y="357.01" font-size="6.15" fill="#3c3c3c" font-weight="normal" text-anchor="middle" font-family='"Liberation Sans", sans-serif' >27</text>
<text x="24.60" y="357.01" font-size="6.15" fill="#3c3c3c" font-weight="normal" text-anchor="start" font-family='"Liberation Sans", sans-serif' >GUERRERO</text>
<text x="115.20" y="357.01" font-size="6.15" fill="#3c3c3c" font-weight="normal" text-anchor="middle" font-family='"Liberation Sans", sans-serif' >25,342</text>
<text x="156.65" y="357.01" font-size="6.15" fill="#3c3c3c" font-weight="normal" text-anchor="middle" font-family='"Liberation Sans", sans-serif' >702.5</text>
<text x="17.50" y="367.22" font-size="6.15" fill="#3c3c3c" font-weight="normal" text-anchor="middle" font-family='"Liberation Sans", sans-serif' >28</text>
<text x="24.60" y="367.22" font-size="6.15" fill="#3c3c3c" font-weight="normal" text-anchor="start" font-family='"Liberation Sans", sans-serif' >OAXACA</text>
<text x="115.20" y="367.22" font-size="6.15" fill="#3c3c3c" font-weight="normal" text-anchor="middle" font-family='"Liberation Sans", sans-serif' >29,313</text>
<text x="156.65" y="367.22" font-size="6.15" fill="#3c3c3c" font-weight="normal" text-anchor="middle" font-family='"Liberation Sans", sans-serif' >675.5</text>
<text x="17.50" y="377.44" font-size="6.15" fill="#3c3c3c" font-weight="normal" text-anchor="middle" font-family='"Liberation Sans", sans-serif' >29</text>
<text x="24.60" y="377.44" font-size="6.15" fill="#3c3c3c" font-weight="normal" text-anchor="start" font-family='"Liberation Sans", sans-serif' >CAMPECHE</text>
<text x="115.20" y="377.44" font-size="6.15" fill="#3c3c3c" font-weight="normal" text-anchor="middle" font-family='"Liberation Sans", sans-serif' >5,580</text>
<text x="156.65" y="377.44" font-size="6.15" fill="#3c3c3c" font-weight="normal" text-anchor="middle" font-family='"Liberation Sans", sans-serif' >582.1</text>
<text x="17.50" y="387.65" font-size="6.15" fill="#3c3c3c" font-weight="normal" text-anchor="middle" font-family='"Liberation Sans", sans-serif' >30</text>
<text x="24.60" y="387.65" font-size="6.15" fill="#3c3c3c" font-weight="normal" text-anchor="start" font-family='"Liberation Sans", sans-serif' >YUCATAN</text>
<text x="115.20" y="387.65" font-size="6.15" fill="#3c3c3c" font-weight="normal" text-anchor="middle" font-family='"Liberation Sans", sans-serif' >5,357</text>
<text x="156.65" y="387.65" font-size="6.15" fill="#3c3c3c" font-weight="normal" text-anchor="middle" font-family='"Liberation Sans", sans-serif' >213.1</text>
<text x="17.50" y="397.87" font-size="6.15" fill="#1c1c1c" font-weight="bold" text-anchor="middle" font-family='"Liberation Sans", sans-serif' >31</text>
<text x="24.60" y="397.87" font-size="6.15" fill="#1c1c1c" font-weight="bold" text-anchor="start" font-family='"Liberation Sans", sans-serif' >CHIAPAS</text>
<text x="115.20" y="397.87" font-size="6.15" fill="#1c1c1c" font-weight="bold" text-anchor="middle" font-family='"Liberation Sans", sans-serif' >11,031</text>
<text x="156.65" y="397.87" font-size="6.15" fill="#1c1c1c" font-weight="bold" text-anchor="middle" font-family='"Liberation Sans", sans-serif' >180.6</text>
<text x="17.50" y="408.08" font-size="6.15" fill="#3c3c3c" font-weight="normal" text-anchor="middle" font-family='"Liberation Sans", sans-serif' >32</text>
<text x="24.60" y="408.08" font-size="6.15" fill="#3c3c3c" font-weight="normal" text-anchor="start" font-family='"Liberation Sans", sans-serif' >TLAXCALA</text>
<text x="115.20" y="408.08" font-size="6.15" fill="#3c3c3c" font-weight="normal" text-anchor="middle" font-family='"Liberation Sans", sans-serif' >2,493</text>
<text x="156.65" y="408.08" font-size="6.15" fill="#3c3c3c" font-weight="normal" text-anchor="middle" font-family='"Liberation Sans", sans-serif' >172.2</text>
<rect x="321.6" y="108.7" width="277.60" height="40.60" fill="#fff"/>
<rect x="321.6" y="90.4" width="277.60" height="18.30" fill="#3f3f3f"/>
<g stroke="#8c8c8c" stroke-width="0.6" fill="none">
<rect x="321.6" y="108.7" width="277.60" height="40.60"/>
<line x1="321.6" y1="129.2" x2="599.2" y2="129.2"/>
<line x1="403.4" y1="108.7" x2="403.4" y2="149.3"/>
<line x1="498.4" y1="108.7" x2="498.4" y2="149.3"/>
</g>
<g stroke="#5a5a5a" stroke-width="0.5"><line x1="403.4" y1="90.4" x2="403.4" y2="108.7"/><line x1="498.4" y1="90.4" x2="498.4" y2="108.7"/></g>
<text x="450.90" y="103.20" font-size="9.6" fill="#fff" font-weight="bold" text-anchor="middle" font-family='"Liberation Sans", sans-serif' >Tasa 2024</text>
<text x="548.80" y="103.20" font-size="9.6" fill="#fff" font-weight="bold" text-anchor="middle" font-family='"Liberation Sans", sans-serif' >Tasa 2025</text>
<text x="362.50" y="123.00" font-size="10.4" fill="#151515" font-weight="bold" text-anchor="middle" font-family='"Liberation Sans", sans-serif' >Nacional</text>
<text x="362.50" y="143.40" font-size="10.4" fill="#151515" font-weight="bold" text-anchor="middle" font-family='"Liberation Sans", sans-serif' >Chiapas</text>
<text x="450.90" y="123.00" font-size="10.4" fill="#151515" font-weight="bold" text-anchor="middle" font-family='"Liberation Sans", sans-serif' >1,581.63</text>
<text x="548.80" y="123.00" font-size="10.4" fill="#151515" font-weight="bold" text-anchor="middle" font-family='"Liberation Sans", sans-serif' >1,511.97</text>
<text x="450.90" y="143.40" font-size="10.4" fill="#151515" font-weight="bold" text-anchor="middle" font-family='"Liberation Sans", sans-serif' >227.35</text>
<text x="548.80" y="143.40" font-size="10.4" fill="#151515" font-weight="bold" text-anchor="middle" font-family='"Liberation Sans", sans-serif' >180.60</text>
<text x="208.00" y="340.70" font-size="6.3" fill="#555" font-weight="normal" text-anchor="end" font-family='"Liberation Sans", sans-serif' >0</text>
<text x="208.00" y="313.00" font-size="6.3" fill="#555" font-weight="normal" text-anchor="end" font-family='"Liberation Sans", sans-serif' >500</text>
<text x="208.00" y="285.30" font-size="6.3" fill="#555" font-weight="normal" text-anchor="end" font-family='"Liberation Sans", sans-serif' >1,000</text>
<text x="208.00" y="257.60" font-size="6.3" fill="#555" font-weight="normal" text-anchor="end" font-family='"Liberation Sans", sans-serif' >1,500</text>
<text x="208.00" y="229.90" font-size="6.3" fill="#555" font-weight="normal" text-anchor="end" font-family='"Liberation Sans", sans-serif' >2,000</text>
<text x="208.00" y="202.20" font-size="6.3" fill="#555" font-weight="normal" text-anchor="end" font-family='"Liberation Sans", sans-serif' >2,500</text>
<text x="208.00" y="174.50" font-size="6.3" fill="#555" font-weight="normal" text-anchor="end" font-family='"Liberation Sans", sans-serif' >3,000</text>
<text x="208.00" y="146.80" font-size="6.3" fill="#555" font-weight="normal" text-anchor="end" font-family='"Liberation Sans", sans-serif' >3,500</text>
<path d="M212.80 338.6 V147.16 Q212.80 144.96 215.00 144.96 H224.10 Q226.30 144.96 226.30 147.16 V338.6 Z" fill="#e2232d"/>
<text x="219.55" y="143.26" font-size="3.6" fill="#444" font-weight="normal" text-anchor="middle" font-family='"Liberation Sans", sans-serif' >3,495.3</text>
<text transform="translate(222.15 343.80) rotate(-45)" x="0" y="2.2" font-size="6.3" fill="#383838" text-anchor="end" font-family='"Liberation Sans", sans-serif'>COLIMA</text>
<path d="M228.74 338.6 V189.19 Q228.74 186.99 230.94 186.99 H240.04 Q242.24 186.99 242.24 189.19 V338.6 Z" fill="#e2232d"/>
<text x="235.49" y="185.29" font-size="3.6" fill="#444" font-weight="normal" text-anchor="middle" font-family='"Liberation Sans", sans-serif' >2,736.6</text>
<text transform="translate(238.09 343.80) rotate(-45)" x="0" y="2.2" font-size="6.3" fill="#383838" text-anchor="end" font-family='"Liberation Sans", sans-serif'>BAJA CALIFORNIA SUR</text>
<path d="M244.69 338.6 V193.60 Q244.69 191.40 246.89 191.40 H255.99 Q258.19 191.40 258.19 193.60 V338.6 Z" fill="#e2232d"/>
<text x="251.44" y="189.70" font-size="3.6" fill="#444" font-weight="normal" text-anchor="middle" font-family='"Liberation Sans", sans-serif' >2,657.1</text>
<text transform="translate(254.04 343.80) rotate(-45)" x="0" y="2.2" font-size="6.3" fill="#383838" text-anchor="end" font-family='"Liberation Sans", sans-serif'>QUINTANA ROO</text>
<path d="M260.63 338.6 V199.72 Q260.63 197.52 262.83 197.52 H271.93 Q274.13 197.52 274.13 199.72 V338.6 Z" fill="#e2232d"/>
<text x="267.38" y="195.82" font-size="3.6" fill="#444" font-weight="normal" text-anchor="middle" font-family='"Liberation Sans", sans-serif' >2,546.5</text>
<text transform="translate(269.98 343.80) rotate(-45)" x="0" y="2.2" font-size="6.3" fill="#383838" text-anchor="end" font-family='"Liberation Sans", sans-serif'>GUANAJUATO</text>
<path d="M276.58 338.6 V200.29 Q276.58 198.09 278.78 198.09 H287.88 Q290.08 198.09 290.08 200.29 V338.6 Z" fill="#e2232d"/>
<text x="283.33" y="196.39" font-size="3.6" fill="#444" font-weight="normal" text-anchor="middle" font-family='"Liberation Sans", sans-serif' >2,536.3</text>
<text transform="translate(285.93 343.80) rotate(-45)" x="0" y="2.2" font-size="6.3" fill="#383838" text-anchor="end" font-family='"Liberation Sans", sans-serif'>AGUASCALIENTES</text>
<path d="M292.52 338.6 V214.06 Q292.52 211.86 294.72 211.86 H303.82 Q306.02 211.86 306.02 214.06 V338.6 Z" fill="#e2232d"/>
<text x="299.27" y="210.16" font-size="3.6" fill="#444" font-weight="normal" text-anchor="middle" font-family='"Liberation Sans", sans-serif' >2,287.8</text>
<text transform="translate(301.87 343.80) rotate(-45)" x="0" y="2.2" font-size="6.3" fill="#383838" text-anchor="end" font-family='"Liberation Sans", sans-serif'>CIUDAD DE MEXICO</text>
<path d="M308.46 338.6 V217.52 Q308.46 215.32 310.66 215.32 H319.76 Q321.96 215.32 321.96 217.52 V338.6 Z" fill="#e2232d"/>
<text x="315.21" y="213.62" font-size="3.6" fill="#444" font-weight="normal" text-anchor="middle" font-family='"Liberation Sans", sans-serif' >2,225.2</text>
<text transform="translate(317.81 343.80) rotate(-45)" x="0" y="2.2" font-size="6.3" fill="#383838" text-anchor="end" font-family='"Liberation Sans", sans-serif'>BAJA CALIFORNIA</text>
<path d="M324.41 338.6 V218.34 Q324.41 216.14 326.61 216.14 H335.71 Q337.91 216.14 337.91 218.34 V338.6 Z" fill="#e2232d"/>
<text x="331.16" y="214.44" font-size="3.6" fill="#444" font-weight="normal" text-anchor="middle" font-family='"Liberation Sans", sans-serif' >2,210.5</text>
<text transform="translate(333.76 343.80) rotate(-45)" x="0" y="2.2" font-size="6.3" fill="#383838" text-anchor="end" font-family='"Liberation Sans", sans-serif'>MORELOS</text>
<path d="M340.35 338.6 V222.58 Q340.35 220.38 342.55 220.38 H351.65 Q353.85 220.38 353.85 222.58 V338.6 Z" fill="#e2232d"/>
<text x="347.10" y="218.68" font-size="3.6" fill="#444" font-weight="normal" text-anchor="middle" font-family='"Liberation Sans", sans-serif' >2,134.0</text>
<text transform="translate(349.70 343.80) rotate(-45)" x="0" y="2.2" font-size="6.3" fill="#383838" text-anchor="end" font-family='"Liberation Sans", sans-serif'>QUERETARO</text>
<path d="M356.29 338.6 V228.14 Q356.29 225.94 358.49 225.94 H367.59 Q369.79 225.94 369.79 228.14 V338.6 Z" fill="#e2232d"/>
<text x="363.04" y="224.24" font-size="3.6" fill="#444" font-weight="normal" text-anchor="middle" font-family='"Liberation Sans", sans-serif' >2,033.6</text>
<text transform="translate(365.64 343.80) rotate(-45)" x="0" y="2.2" font-size="6.3" fill="#383838" text-anchor="end" font-family='"Liberation Sans", sans-serif'>COAHUILA</text>
<path d="M372.24 338.6 V229.14 Q372.24 226.94 374.44 226.94 H383.54 Q385.74 226.94 385.74 229.14 V338.6 Z" fill="#e2232d"/>
<text x="378.99" y="225.24" font-size="3.6" fill="#444" font-weight="normal" text-anchor="middle" font-family='"Liberation Sans", sans-serif' >2,015.5</text>
<text transform="translate(381.59 343.80) rotate(-45)" x="0" y="2.2" font-size="6.3" fill="#383838" text-anchor="end" font-family='"Liberation Sans", sans-serif'>SAN LUIS POTOSI</text>
<path d="M388.18 338.6 V230.59 Q388.18 228.39 390.38 228.39 H399.48 Q401.68 228.39 401.68 230.59 V338.6 Z" fill="#e2232d"/>
<text x="394.93" y="226.69" font-size="3.6" fill="#444" font-weight="normal" text-anchor="middle" font-family='"Liberation Sans", sans-serif' >1,989.3</text>
<text transform="translate(397.53 343.80) rotate(-45)" x="0" y="2.2" font-size="6.3" fill="#383838" text-anchor="end" font-family='"Liberation Sans", sans-serif'>MEXICO</text>
<path d="M404.12 338.6 V238.30 Q404.12 236.10 406.32 236.10 H415.43 Q417.62 236.10 417.62 238.30 V338.6 Z" fill="#e2232d"/>
<text x="410.88" y="234.40" font-size="3.6" fill="#444" font-weight="normal" text-anchor="middle" font-family='"Liberation Sans", sans-serif' >1,850.2</text>
<text transform="translate(413.48 343.80) rotate(-45)" x="0" y="2.2" font-size="6.3" fill="#383838" text-anchor="end" font-family='"Liberation Sans", sans-serif'>TABASCO</text>
<path d="M420.07 338.6 V239.60 Q420.07 237.40 422.27 237.40 H431.37 Q433.57 237.40 433.57 239.60 V338.6 Z" fill="#e2232d"/>
<text x="426.82" y="235.70" font-size="3.6" fill="#444" font-weight="normal" text-anchor="middle" font-family='"Liberation Sans", sans-serif' >1,826.7</text>
<text transform="translate(429.42 343.80) rotate(-45)" x="0" y="2.2" font-size="6.3" fill="#383838" text-anchor="end" font-family='"Liberation Sans", sans-serif'>CHIHUAHUA</text>
<path d="M436.01 338.6 V244.83 Q436.01 242.63 438.21 242.63 H447.31 Q449.51 242.63 449.51 244.83 V338.6 Z" fill="#e2232d"/>
<text x="442.76" y="240.93" font-size="3.6" fill="#444" font-weight="normal" text-anchor="middle" font-family='"Liberation Sans", sans-serif' >1,732.3</text>
<text transform="translate(445.36 343.80) rotate(-45)" x="0" y="2.2" font-size="6.3" fill="#383838" text-anchor="end" font-family='"Liberation Sans", sans-serif'>HIDALGO</text>
<path d="M451.96 338.6 V257.04 Q451.96 254.84 454.16 254.84 H463.26 Q465.46 254.84 465.46 257.04 V338.6 Z" fill="#404042"/>
<text x="458.71" y="253.14" font-size="3.6" fill="#444" font-weight="normal" text-anchor="middle" font-family='"Liberation Sans", sans-serif' >1,512.0</text>
<text transform="translate(461.31 343.80) rotate(-45)" x="0" y="2.2" font-size="6.3" fill="#383838" text-anchor="end" font-family='"Liberation Sans", sans-serif'>NACIONAL</text>
<path d="M467.90 338.6 V264.77 Q467.90 262.57 470.10 262.57 H479.20 Q481.40 262.57 481.40 264.77 V338.6 Z" fill="#0a9a82"/>
<text x="474.65" y="260.87" font-size="3.6" fill="#444" font-weight="normal" text-anchor="middle" font-family='"Liberation Sans", sans-serif' >1,372.4</text>
<text transform="translate(477.25 343.80) rotate(-45)" x="0" y="2.2" font-size="6.3" fill="#383838" text-anchor="end" font-family='"Liberation Sans", sans-serif'>ZACATECAS</text>
<path d="M483.84 338.6 V269.60 Q483.84 267.40 486.04 267.40 H495.14 Q497.34 267.40 497.34 269.60 V338.6 Z" fill="#0a9a82"/>
<text x="490.59" y="265.70" font-size="3.6" fill="#444" font-weight="normal" text-anchor="middle" font-family='"Liberation Sans", sans-serif' >1,285.2</text>
<text transform="translate(493.19 343.80) rotate(-45)" x="0" y="2.2" font-size="6.3" fill="#383838" text-anchor="end" font-family='"Liberation Sans", sans-serif'>JALISCO</text>
<path d="M499.79 338.6 V273.02 Q499.79 270.82 501.99 270.82 H511.09 Q513.29 270.82 513.29 273.02 V338.6 Z" fill="#0a9a82"/>
<text x="506.54" y="269.12" font-size="3.6" fill="#444" font-weight="normal" text-anchor="middle" font-family='"Liberation Sans", sans-serif' >1,223.5</text>
<text transform="translate(509.14 343.80) rotate(-45)" x="0" y="2.2" font-size="6.3" fill="#383838" text-anchor="end" font-family='"Liberation Sans", sans-serif'>SINALOA</text>
<path d="M515.73 338.6 V274.70 Q515.73 272.50 517.93 272.50 H527.03 Q529.23 272.50 529.23 274.70 V338.6 Z" fill="#0a9a82"/>
<text x="522.48" y="270.80" font-size="3.6" fill="#444" font-weight="normal" text-anchor="middle" font-family='"Liberation Sans", sans-serif' >1,193.1</text>
<text transform="translate(525.08 343.80) rotate(-45)" x="0" y="2.2" font-size="6.3" fill="#383838" text-anchor="end" font-family='"Liberation Sans", sans-serif'>NUEVO LEON</text>
<path d="M531.67 338.6 V276.45 Q531.67 274.25 533.88 274.25 H542.97 Q545.17 274.25 545.17 276.45 V338.6 Z" fill="#0a9a82"/>
<text x="538.42" y="272.55" font-size="3.6" fill="#444" font-weight="normal" text-anchor="middle" font-family='"Liberation Sans", sans-serif' >1,161.5</text>
<text transform="translate(541.02 343.80) rotate(-45)" x="0" y="2.2" font-size="6.3" fill="#383838" text-anchor="end" font-family='"Liberation Sans", sans-serif'>PUEBLA</text>
<path d="M547.62 338.6 V281.79 Q547.62 279.59 549.82 279.59 H558.92 Q561.12 279.59 561.12 281.79 V338.6 Z" fill="#0a9a82"/>
<text x="554.37" y="277.89" font-size="3.6" fill="#444" font-weight="normal" text-anchor="middle" font-family='"Liberation Sans", sans-serif' >1,065.1</text>
<text transform="translate(556.97 343.80) rotate(-45)" x="0" y="2.2" font-size="6.3" fill="#383838" text-anchor="end" font-family='"Liberation Sans", sans-serif'>TAMAULIPAS</text>
<path d="M563.56 338.6 V282.46 Q563.56 280.26 565.76 280.26 H574.86 Q577.06 280.26 577.06 282.46 V338.6 Z" fill="#0a9a82"/>
<text x="570.31" y="278.56" font-size="3.6" fill="#444" font-weight="normal" text-anchor="middle" font-family='"Liberation Sans", sans-serif' >1,053.1</text>
<text transform="translate(572.91 343.80) rotate(-45)" x="0" y="2.2" font-size="6.3" fill="#383838" text-anchor="end" font-family='"Liberation Sans", sans-serif'>SONORA</text>
<path d="M579.51 338.6 V288.10 Q579.51 285.90 581.71 285.90 H590.81 Q593.01 285.90 593.01 288.10 V338.6 Z" fill="#0a9a82"/>
<text x="586.26" y="284.20" font-size="3.6" fill="#444" font-weight="normal" text-anchor="middle" font-family='"Liberation Sans", sans-serif' >951.3</text>
<text transform="translate(588.86 343.80) rotate(-45)" x="0" y="2.2" font-size="6.3" fill="#383838" text-anchor="end" font-family='"Liberation Sans", sans-serif'>DURANGO</text>
<path d="M595.45 338.6 V288.16 Q595.45 285.96 597.65 285.96 H606.75 Q608.95 285.96 608.95 288.16 V338.6 Z" fill="#0a9a82"/>
<text x="602.20" y="284.26" font-size="3.6" fill="#444" font-weight="normal" text-anchor="middle" font-family='"Liberation Sans", sans-serif' >950.2</text>
<text transform="translate(604.80 343.80) rotate(-45)" x="0" y="2.2" font-size="6.3" fill="#383838" text-anchor="end" font-family='"Liberation Sans", sans-serif'>MICHOACAN</text>
<path d="M611.39 338.6 V289.11 Q611.39 286.91 613.59 286.91 H622.69 Q624.89 286.91 624.89 289.11 V338.6 Z" fill="#0a9a82"/>
<text x="618.14" y="285.21" font-size="3.6" fill="#444" font-weight="normal" text-anchor="middle" font-family='"Liberation Sans", sans-serif' >933.0</text>
<text transform="translate(620.74 343.80) rotate(-45)" x="0" y="2.2" font-size="6.3" fill="#383838" text-anchor="end" font-family='"Liberation Sans", sans-serif'>VERACRUZ</text>
<path d="M627.34 338.6 V294.81 Q627.34 292.61 629.54 292.61 H638.64 Q640.84 292.61 640.84 294.81 V338.6 Z" fill="#0a9a82"/>
<text x="634.09" y="290.91" font-size="3.6" fill="#444" font-weight="normal" text-anchor="middle" font-family='"Liberation Sans", sans-serif' >830.1</text>
<text transform="translate(636.69 343.80) rotate(-45)" x="0" y="2.2" font-size="6.3" fill="#383838" text-anchor="end" font-family='"Liberation Sans", sans-serif'>NAYARIT</text>
<path d="M643.28 338.6 V301.88 Q643.28 299.68 645.48 299.68 H654.58 Q656.78 299.68 656.78 301.88 V338.6 Z" fill="#0a9a82"/>
<text x="650.03" y="297.98" font-size="3.6" fill="#444" font-weight="normal" text-anchor="middle" font-family='"Liberation Sans", sans-serif' >702.5</text>
<text transform="translate(652.63 343.80) rotate(-45)" x="0" y="2.2" font-size="6.3" fill="#383838" text-anchor="end" font-family='"Liberation Sans", sans-serif'>GUERRERO</text>
<path d="M659.23 338.6 V303.38 Q659.23 301.18 661.43 301.18 H670.53 Q672.73 301.18 672.73 303.38 V338.6 Z" fill="#0a9a82"/>
<text x="665.98" y="299.48" font-size="3.6" fill="#444" font-weight="normal" text-anchor="middle" font-family='"Liberation Sans", sans-serif' >675.5</text>
<text transform="translate(668.58 343.80) rotate(-45)" x="0" y="2.2" font-size="6.3" fill="#383838" text-anchor="end" font-family='"Liberation Sans", sans-serif'>OAXACA</text>
<path d="M675.17 338.6 V308.55 Q675.17 306.35 677.37 306.35 H686.47 Q688.67 306.35 688.67 308.55 V338.6 Z" fill="#0a9a82"/>
<text x="681.92" y="304.65" font-size="3.6" fill="#444" font-weight="normal" text-anchor="middle" font-family='"Liberation Sans", sans-serif' >582.1</text>
<text transform="translate(684.52 343.80) rotate(-45)" x="0" y="2.2" font-size="6.3" fill="#383838" text-anchor="end" font-family='"Liberation Sans", sans-serif'>CAMPECHE</text>
<path d="M691.11 338.6 V328.99 Q691.11 326.79 693.31 326.79 H702.41 Q704.61 326.79 704.61 328.99 V338.6 Z" fill="#0a9a82"/>
<text x="697.86" y="325.09" font-size="3.6" fill="#444" font-weight="normal" text-anchor="middle" font-family='"Liberation Sans", sans-serif' >213.1</text>
<text transform="translate(700.46 343.80) rotate(-45)" x="0" y="2.2" font-size="6.3" fill="#383838" text-anchor="end" font-family='"Liberation Sans", sans-serif'>YUCATAN</text>
<path d="M707.06 338.6 V330.79 Q707.06 328.59 709.26 328.59 H718.36 Q720.56 328.59 720.56 330.79 V338.6 Z" fill="#0a9a82"/>
<text x="713.81" y="326.89" font-size="3.6" fill="#444" font-weight="normal" text-anchor="middle" font-family='"Liberation Sans", sans-serif' >180.6</text>
<text transform="translate(716.41 343.80) rotate(-45)" x="0" y="2.2" font-size="6.3" fill="#383838" text-anchor="end" font-family='"Liberation Sans", sans-serif'>CHIAPAS</text>
<path d="M723.00 338.6 V331.26 Q723.00 329.06 725.20 329.06 H734.30 Q736.50 329.06 736.50 331.26 V338.6 Z" fill="#0a9a82"/>
<text x="729.75" y="327.36" font-size="3.6" fill="#444" font-weight="normal" text-anchor="middle" font-family='"Liberation Sans", sans-serif' >172.2</text>
<text transform="translate(732.35 343.80) rotate(-45)" x="0" y="2.2" font-size="6.3" fill="#383838" text-anchor="end" font-family='"Liberation Sans", sans-serif'>TLAXCALA</text>
<text x="434.70" y="212.40" font-size="11.4" fill="#111" font-weight="bold" text-anchor="start" font-family='"Liberation Sans", sans-serif' textLength="52.2" lengthAdjust="spacingAndGlyphs">Nacional</text>
<rect x="458.2" y="224.3" width="6.4" height="2.0" fill="#d9d9d9"/>
<rect x="458.2" y="227.1" width="6.4" height="2.0" fill="#bdbdbd"/>
<rect x="458.2" y="229.9" width="6.4" height="2.0" fill="#8f8f8f"/>
<path d="M458.2 232.7 H464.59999999999997 V237.3 H467.59999999999997 L461.4 246.4 L455.2 237.3 H458.2 Z" fill="#3b3b3b"/>
<text x="682.70" y="279.70" font-size="11.0" fill="#111" font-weight="bold" text-anchor="start" font-family='"Liberation Sans", sans-serif' textLength="59.3" lengthAdjust="spacingAndGlyphs">2do Lugar</text>
<rect x="708.75" y="292.1" width="8.3" height="2.5" fill="#0b5b33"/>
<rect x="708.75" y="295.5" width="8.3" height="2.5" fill="#0e7a43"/>
<rect x="708.75" y="298.9" width="8.3" height="2.5" fill="#2a9f5c"/>
<path d="M708.75 302.2 H717.05 V309.3 H720.1999999999999 L712.9 319.9 L705.6 309.3 H708.75 Z" fill="#1fc24f"/>
<g fill="#ffffff" opacity="0.045" font-weight="bold" font-family='"Liberation Sans", sans-serif'>
<text x="191" y="227" font-size="151" textLength="290" lengthAdjust="spacingAndGlyphs">CER</text>
<text x="193" y="330" font-size="105" textLength="397" lengthAdjust="spacingAndGlyphs">IMPUNIDAD</text>
<circle cx="540" cy="173" r="46" fill="none" stroke="#ffffff" stroke-width="12"/>
<line x1="513" y1="203" x2="567" y2="143" stroke="#ffffff" stroke-width="9"/>
</g>
</svg>
</body>
</html>
